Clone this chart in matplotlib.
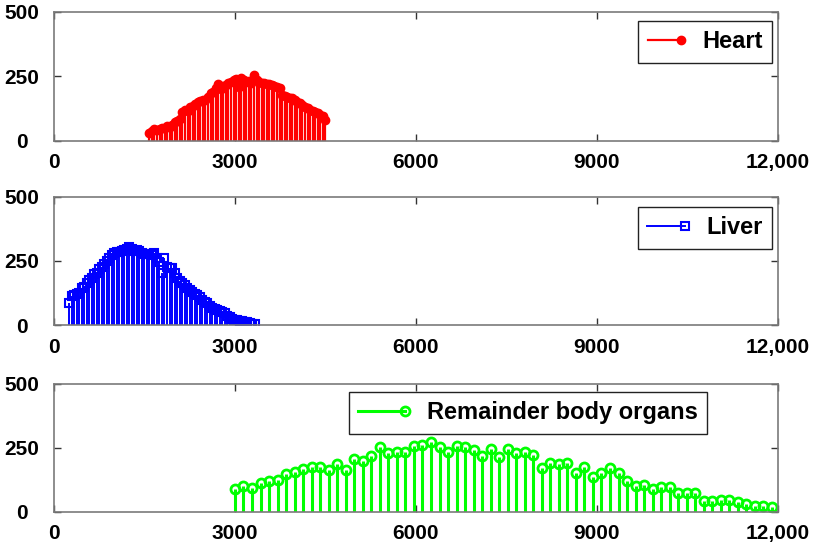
import numpy as np
import matplotlib
matplotlib.use('Agg')
import matplotlib.pyplot as plt
from matplotlib.lines import Line2D
from matplotlib.legend_handler import HandlerBase

plt.rcParams['font.family'] = ['Liberation Sans', 'DejaVu Sans']
plt.rcParams['font.weight'] = 'bold'

# ---------------- data ----------------
heart_x = np.linspace(1580, 4500, 70)
heart_y = [30, 38, 45, 42, 48, 52, 50, 58, 55, 62,
           72, 78, 85, 112, 122, 118, 130, 136, 142, 150,
           155, 160, 158, 170, 185, 190, 205, 222, 200, 212,
           218, 225, 228, 235, 240, 210, 243, 236, 228, 232,
           226, 255, 238, 230, 226, 224, 220, 222, 218, 214,
           210, 205, 180, 175, 172, 168, 165, 158, 150, 148,
           140, 132, 128, 120, 115, 112, 108, 100, 95, 82]

liver_x = np.linspace(250, 3330, 75)
liver_y = [87, 112, 118, 122, 125, 143, 150, 163, 175, 185,
           198, 205, 218, 228, 238, 250, 262, 272, 280, 284,
           286, 290, 293, 296, 303, 298, 290, 293, 290, 282,
           277, 276, 277, 275, 280, 262, 247, 205, 260, 225,
           222, 221, 205, 182, 170, 163, 155, 143, 136, 130,
           122, 117, 108, 98, 90, 85, 75, 68, 63, 59,
           56, 52, 45, 36, 30, 24, 20, 18, 17, 15,
           13, 10, 7, 5, 4]

rem_x = np.linspace(3000, 11900, 64)
rem_y = [90, 102, 95, 113, 122, 126, 148, 157, 168, 177, 177, 164, 187, 164, 207, 198,
         219, 253, 232, 236, 236, 258, 262, 275, 253, 236, 256, 253, 242, 219, 245, 216,
         245, 229, 236, 223, 173, 193, 186, 193, 151, 177, 135, 151, 171, 151, 122, 102,
         105, 88, 99, 99, 75, 75, 75, 44, 44, 46, 46, 40, 31, 23, 23, 18]

x_ticks = [0, 3000, 6000, 9000, 12000]
x_ticklabels = ['0', '3000', '6000', '9000', '12,000']
y_ticks = [0, 250, 500]
y_ticklabels = ['0', '250', '500']
labels = ['Heart', 'Liver', 'Remainder body organs']


class EndMarkerHandler(HandlerBase):
    def create_artists(self, legend, orig, xdescent, ydescent, width, height,
                       fontsize, trans):
        y = height / 2 - ydescent
        ln = Line2D([-xdescent, width - xdescent], [y, y],
                    color=orig.get_color(), lw=orig.get_linewidth())
        mk = Line2D([width - xdescent], [y], linestyle='none',
                    marker=orig.get_marker(), markersize=orig.get_markersize(),
                    markerfacecolor=orig.get_markerfacecolor(),
                    markeredgecolor=orig.get_markeredgecolor(),
                    markeredgewidth=orig.get_markeredgewidth())
        ln.set_transform(trans)
        mk.set_transform(trans)
        return [ln, mk]


fig = plt.figure(figsize=(8.19, 5.52), dpi=100)
positions = [[0.0659, 0.7446, 0.884, 0.2337],
             [0.0659, 0.4112, 0.884, 0.232],
             [0.0659, 0.0725, 0.884, 0.232]]

specs = [
    dict(x=heart_x, y=heart_y, color='#ff0000', marker='o', ms=6, mfc='#ff0000',
         mew=1.0, lw=1.6, anchor=(0.9917, 0.930), hl=1.4),
    dict(x=liver_x, y=liver_y, color='#0000ff', marker='s', ms=5.5, mfc='none',
         mew=1.5, lw=1.4, anchor=(0.9917, 0.922), hl=1.6),
    dict(x=rem_x, y=rem_y, color='#00ff00', marker='o', ms=6.5, mfc='none',
         mew=2.0, lw=2.2, anchor=(0.902, 0.9375), hl=2.0),
]

for pos, spec, label in zip(positions, specs, labels):
    ax = fig.add_axes(pos)
    ml, sl, bl = ax.stem(spec['x'], spec['y'], basefmt=' ')
    plt.setp(sl, color=spec['color'], linewidth=spec['lw'])
    plt.setp(ml, color=spec['color'], marker=spec['marker'],
             markersize=spec['ms'], markerfacecolor=spec['mfc'],
             markeredgecolor=spec['color'], markeredgewidth=spec['mew'])
    bl.set_visible(False)

    ax.set_xlim(0, 12000)
    ax.set_ylim(0, 500)
    ax.set_xticks(x_ticks)
    ax.set_xticklabels(x_ticklabels)
    ax.set_yticks(y_ticks)
    ax.set_yticklabels(y_ticklabels)
    for s in ax.spines.values():
        s.set_color('#7a7a7a')
        s.set_linewidth(1.2)
    ax.tick_params(axis='both', direction='in', length=5, width=1,
                   color='#333333', labelsize=15, top=True, right=True)
    ax.tick_params(axis='x', pad=9)
    ax.tick_params(axis='y', pad=23)
    for t in ax.get_yticklabels():
        t.set_horizontalalignment('center')
        t.set_fontweight('bold')
    for t in ax.get_xticklabels():
        t.set_fontweight('bold')

    proxy = Line2D([], [], color=spec['color'], lw=spec['lw'],
                   marker=spec['marker'], markersize=spec['ms'],
                   markerfacecolor=spec['mfc'], markeredgecolor=spec['color'],
                   markeredgewidth=spec['mew'])
    leg = ax.legend(handles=[proxy], labels=[label],
                    handler_map={Line2D: EndMarkerHandler()},
                    loc='upper right', bbox_to_anchor=spec['anchor'],
                    borderaxespad=0, fancybox=False, edgecolor='#222222',
                    framealpha=1, prop={'weight': 'bold', 'size': 17},
                    handlelength=spec['hl'], handletextpad=0.9, borderpad=0.4)
    leg.get_frame().set_linewidth(1.0)

fig.savefig('out.png', dpi=100)
